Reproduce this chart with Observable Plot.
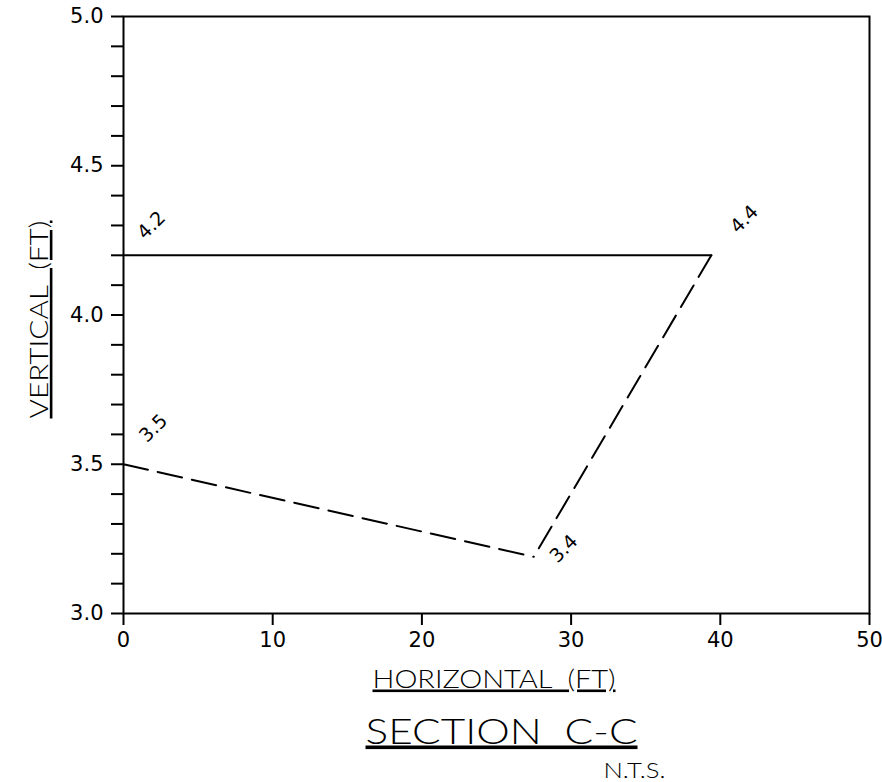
<!DOCTYPE html>
<html><head><meta charset="utf-8">
<script src="https://cdn.jsdelivr.net/npm/d3@7"></script>
<script src="https://cdn.jsdelivr.net/npm/@observablehq/plot@0.6"></script>
<style>
body{margin:0;background:#fff}
svg text{white-space:pre}
</style>
</head><body><div id="chart"></div>
<script>
// ---- data ----
const solidX = [0, 39.4];
const solidY = [4.2, 4.2];
const dashSeries = ["lower", "lower", "upper", "upper"];
const dashX = [0, 27.5, 39.4, 27.5];
const dashY = [3.5, 3.19, 4.2, 3.19];
const pointLabels = ["4.2", "4.4", "3.5", "3.4"];
const labelX = [0, 39.4, 0, 27.5];
const labelY = [4.2, 4.2, 3.5, 3.19];
const xTicks = [0, 10, 20, 30, 40, 50];
const yTicks = d3.range(30, 51).map(d => d / 10);
const yLabelTicks = [3.0, 3.5, 4.0, 4.5, 5.0];
const xTitle = "HORIZONTAL  (FT)";
const yTitle = "VERTICAL  (FT)";
const title = "SECTION  C-C";
const note = "N.T.S.";

// ---- tables ----
const solid = solidX.map((x, i) => ({x, y: solidY[i]}));
const dashed = dashX.map((x, i) => ({x, y: dashY[i], s: dashSeries[i]}));
const labels = pointLabels.map((t, i) => ({t, x: labelX[i], y: labelY[i]}));
// screen offsets for the rotated point labels (style)
const labelOffsets = [[28, -30], [33, -36], [30, -36], [30, -8]];
// rendered widths of the drawing's text (style)
const textWidths = new Map([[xTitle, 243], [yTitle, 198], [title, 272], [note, 62]]);

const numFont = "DejaVu Sans, Liberation Sans, sans-serif";
const titleFont = "Lato, Liberation Sans, sans-serif";

const chart = Plot.plot({
  width: 882,
  height: 782,
  marginLeft: 123,
  marginRight: 13,
  marginTop: 16,
  marginBottom: 169,
  style: {background: "#fff", color: "#000", fontFamily: numFont, overflow: "visible"},
  x: {domain: [0, 50]},
  y: {domain: [3, 5]},
  marks: [
    Plot.axisY(yTicks, {tickSize: 12, tickPadding: 8, strokeWidth: 2, fontSize: 21,
      tickFormat: d => yLabelTicks.includes(d) ? d.toFixed(1) : "", label: null}),
    Plot.axisX(xTicks, {tickSize: 12, tickPadding: 7, strokeWidth: 2, fontSize: 21,
      tickFormat: d => String(d), label: null}),
    Plot.frame({strokeWidth: 2}),
    Plot.line(solid, {x: "x", y: "y", stroke: "#000", strokeWidth: 2}),
    Plot.line(dashed, {x: "x", y: "y", z: "s", stroke: "#000", strokeWidth: 2, strokeDasharray: "25,10"}),
    ...labels.map((d, i) => Plot.text([d], {x: "x", y: "y", text: "t", rotate: -45,
      dx: labelOffsets[i][0], dy: labelOffsets[i][1], fontSize: 19, fontFamily: numFont})),
    Plot.text([xTitle], {frameAnchor: "bottom", text: d => d, textAnchor: "middle", dx: -2.5, dy: 74, lineAnchor: "bottom",
      fontSize: 26, fontFamily: titleFont, fontWeight: 300}),
    Plot.text([yTitle], {frameAnchor: "left", text: d => d, textAnchor: "middle", rotate: -90, dx: -84, dy: 4.5,
      fontSize: 26, fontFamily: titleFont, fontWeight: 300}),
    Plot.text([title], {frameAnchor: "bottom", text: d => d, textAnchor: "middle", dx: 5, dy: 130, lineAnchor: "bottom",
      fontSize: 36, fontFamily: titleFont, fontWeight: 300}),
    Plot.text([note], {frameAnchor: "bottom", text: d => d, textAnchor: "middle", dx: 138, dy: 164, lineAnchor: "bottom",
      fontSize: 21, fontFamily: titleFont, fontWeight: 300})
  ]
});
d3.select(chart).selectAll("text").each(function() {
  const t = this.textContent;
  if (textWidths.has(t)) {
    d3.select(this).attr("textLength", textWidths.get(t)).attr("lengthAdjust", "spacingAndGlyphs");
  }
  if (t === xTitle || t === yTitle || t === title) {
    d3.select(this).style("text-decoration", "underline")
      .style("text-decoration-thickness", "2px")
      .style("text-underline-offset", "3px");
  }
});
document.getElementById("chart").appendChild(chart);
</script>
</body></html>
